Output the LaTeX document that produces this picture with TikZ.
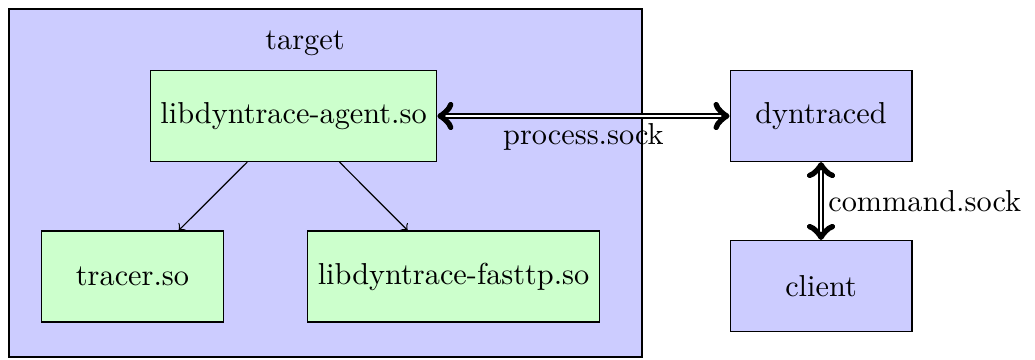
\documentclass[tikz,border=0pt]{standalone}
\usepackage{tikz}
\tikzset{
  proc/.style={draw,fill=blue!20,minimum width=6em,minimum height=3em},
  lib/.style={draw,fill=green!20,minimum width=6em,minimum height=3em},
  sock/.style={<->,double,thick},
  sockname/.style={midway,inner sep=2pt}
}

\begin{document}
\begin{tikzpicture}
    \useasboundingbox (0,0) rectangle (12.006,4.176);

    \node[proc,minimum width=7.343cm,minimum height=4.037cm,inner sep=0] (target) at (3.776,2.054) {};
    \node (targetname) at (3.538,3.677) {target};

    \node[lib] (agent) at (3.405,2.830) {libdyntrace-agent.so};
    \node[lib] (tracer) at (1.537,0.969) {tracer.so};
    \node[lib] (fasttp) at (5.261,0.969) {libdyntrace-fasttp.so};

    \node[proc] (daemon) at (9.524,2.830) {dyntraced};
    \node[proc] (client) at (9.524,0.858) {client};

    \draw[->] (agent) -- (tracer);
    \draw[->] (agent) -- (fasttp);

    \draw[sock] (agent.east) -- (daemon.west) node[sockname,below]{process.sock};
    \draw[sock] (daemon.south) -- (client.north) node[sockname,right]{command.sock};
\end{tikzpicture}
\end{document}
